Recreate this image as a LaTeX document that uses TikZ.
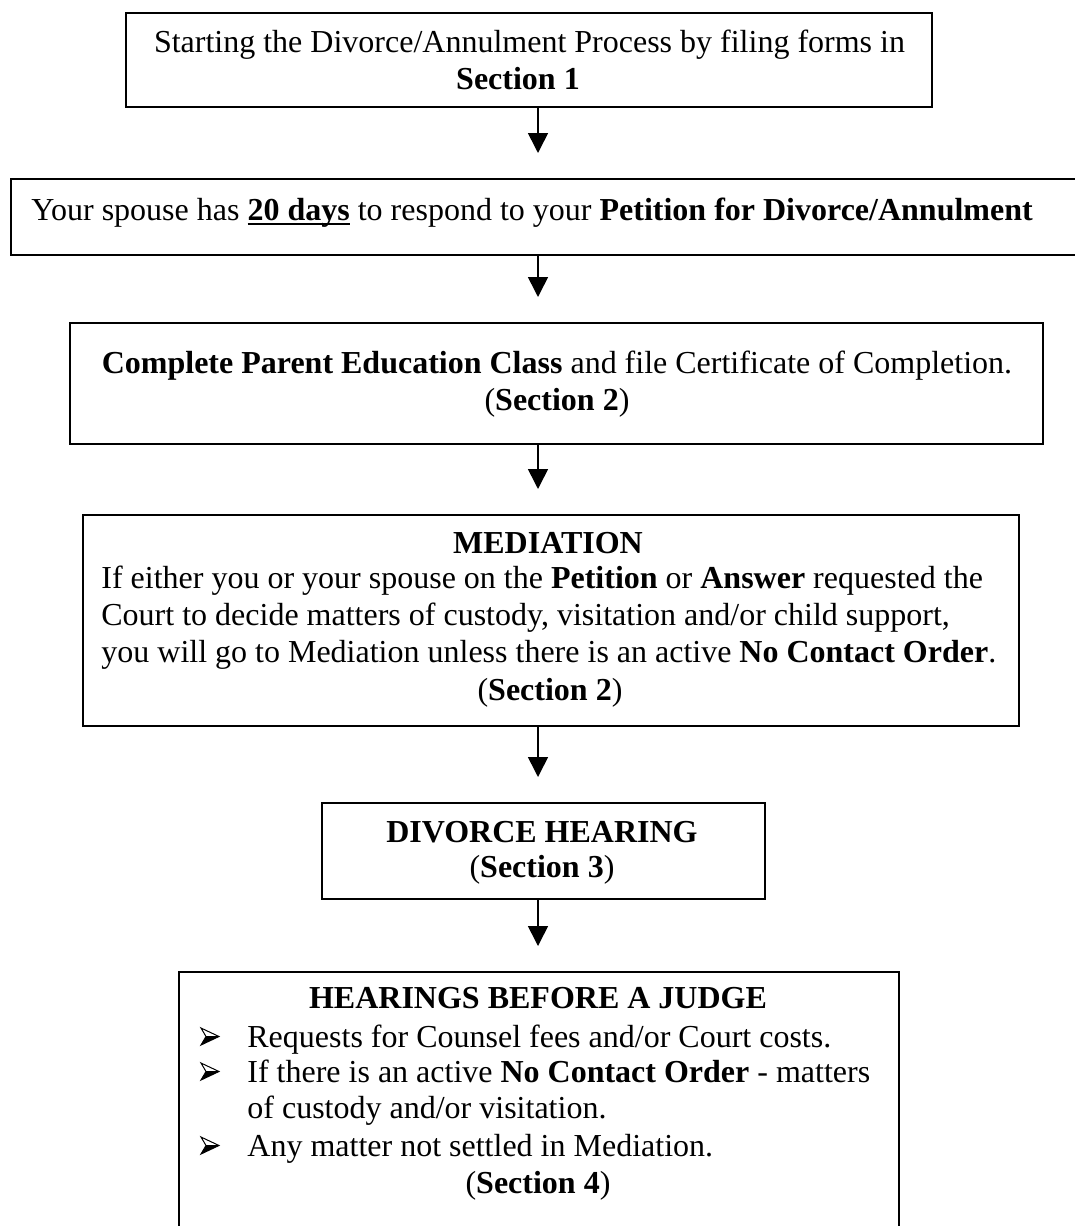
\documentclass[tikz,border=0pt]{standalone}
\usepackage{fontspec}
\setmainfont{Liberation Serif}
\usetikzlibrary{arrows.meta}
\newcommand\thickul[1]{\leavevmode\setbox0\hbox{#1}\rlap{\rule[-2.6pt]{\wd0}{1.1pt}}\box0\relax}
\begin{document}
\begin{tikzpicture}[x=0.5pt,y=-0.5pt,
  box/.style={draw, line width=1pt, inner sep=0pt, anchor=north west},
  txt/.style={inner sep=0pt, anchor=base, font=\fontsize{16}{18.4}\selectfont},
  ltxt/.style={txt, anchor=base west},
  arr/.style={line width=0.8pt, -{Triangle[length=10pt,width=10pt]}, shorten >=12.5pt},
  arrbullet/.pic={
    \fill[black] (5,-8) -- (18,-8.5) -- (0,0) -- cycle;
    \draw[line width=0.5pt, line join=miter] (0,-17) -- (18,-8.5) -- (0,0) -- (5,-8.5) -- cycle;
    \draw[line width=0.4pt] (5,-8.5) -- (18,-8.5);
  }]
\useasboundingbox (0,0) rectangle (1075,1226);
\clip (0,0) rectangle (1075,1226);
\coordinate (ax) at (538,0);
% boxes
\node[box, minimum width=403pt, minimum height=47pt] (b1) at (125,12) {};
\node[box, minimum width=537.5pt, minimum height=38pt] (b2) at (10,178) {};
\node[box, minimum width=486.7pt, minimum height=60.5pt] (b3) at (68.6,322) {};
\node[box, minimum width=468pt, minimum height=105.5pt] (b4) at (82,514) {};
\node[box, minimum width=221.5pt, minimum height=48pt] (b5) at (321,802) {};
\node[box, minimum width=360pt, minimum height=139.5pt] (b6) at (178,971) {};
% texts box 1
\node[txt] (t1a) at (529.5,52) {Starting the Divorce/Annulment Process by filing forms in};
\node[txt] (t1b) at (518,89) {\textbf{Section 1}};
% box 2
\node[txt] (t2a) at (532,220) {Your spouse has \thickul{\textbf{20 days}} to respond to your \textbf{Petition for Divorce/Annulment}};
% box 3
\node[txt] (t3a) at (557,373) {\textbf{Complete Parent Education Class} and file Certificate of Completion.};
\node[txt] (t3b) at (557,410) {(\textbf{Section 2})};
% box 4
\node[txt] (t4a) at (548,553) {\textbf{MEDIATION}};
\node[ltxt] (t4b) at (101,588) {If either you or your spouse on the \textbf{Petition} or \textbf{Answer} requested the};
\node[ltxt] (t4c) at (101,625) {Court to decide matters of custody, visitation and/or child support,};
\node[ltxt] (t4d) at (101,662) {you will go to Mediation unless there is an active \textbf{No Contact Order}.};
\node[txt] (t4e) at (550,700) {(\textbf{Section 2})};
% box 5
\node[txt] (t5a) at (542,842) {\textbf{DIVORCE HEARING}};
\node[txt] (t5b) at (542,877) {(\textbf{Section 3})};
% box 6
\node[txt] (t6a) at (538,1008) {\textbf{HEARINGS BEFORE A JUDGE}};
\pic at (201,1045) {arrbullet};
\node[ltxt] (t6b) at (247,1047) {Requests for Counsel fees and/or Court costs.};
\pic at (201,1080) {arrbullet};
\node[ltxt] (t6c) at (247,1082) {If there is an active \textbf{No Contact Order} - matters};
\node[ltxt] (t6d) at (247,1118) {of custody and/or visitation.};
\pic at (201,1154) {arrbullet};
\node[ltxt] (t6e) at (247,1156) {Any matter not settled in Mediation.};
\node[txt] (t6f) at (538,1193) {(\textbf{Section 4})};
% arrows
\draw[arr] (b1.south -| ax) -- (b2.north -| ax);
\draw[arr] (b2.south -| ax) -- (b3.north -| ax);
\draw[arr] (b3.south -| ax) -- (b4.north -| ax);
\draw[arr] (b4.south -| ax) -- (b5.north -| ax);
\draw[arr] (b5.south -| ax) -- (b6.north -| ax);
\end{tikzpicture}
\end{document}
